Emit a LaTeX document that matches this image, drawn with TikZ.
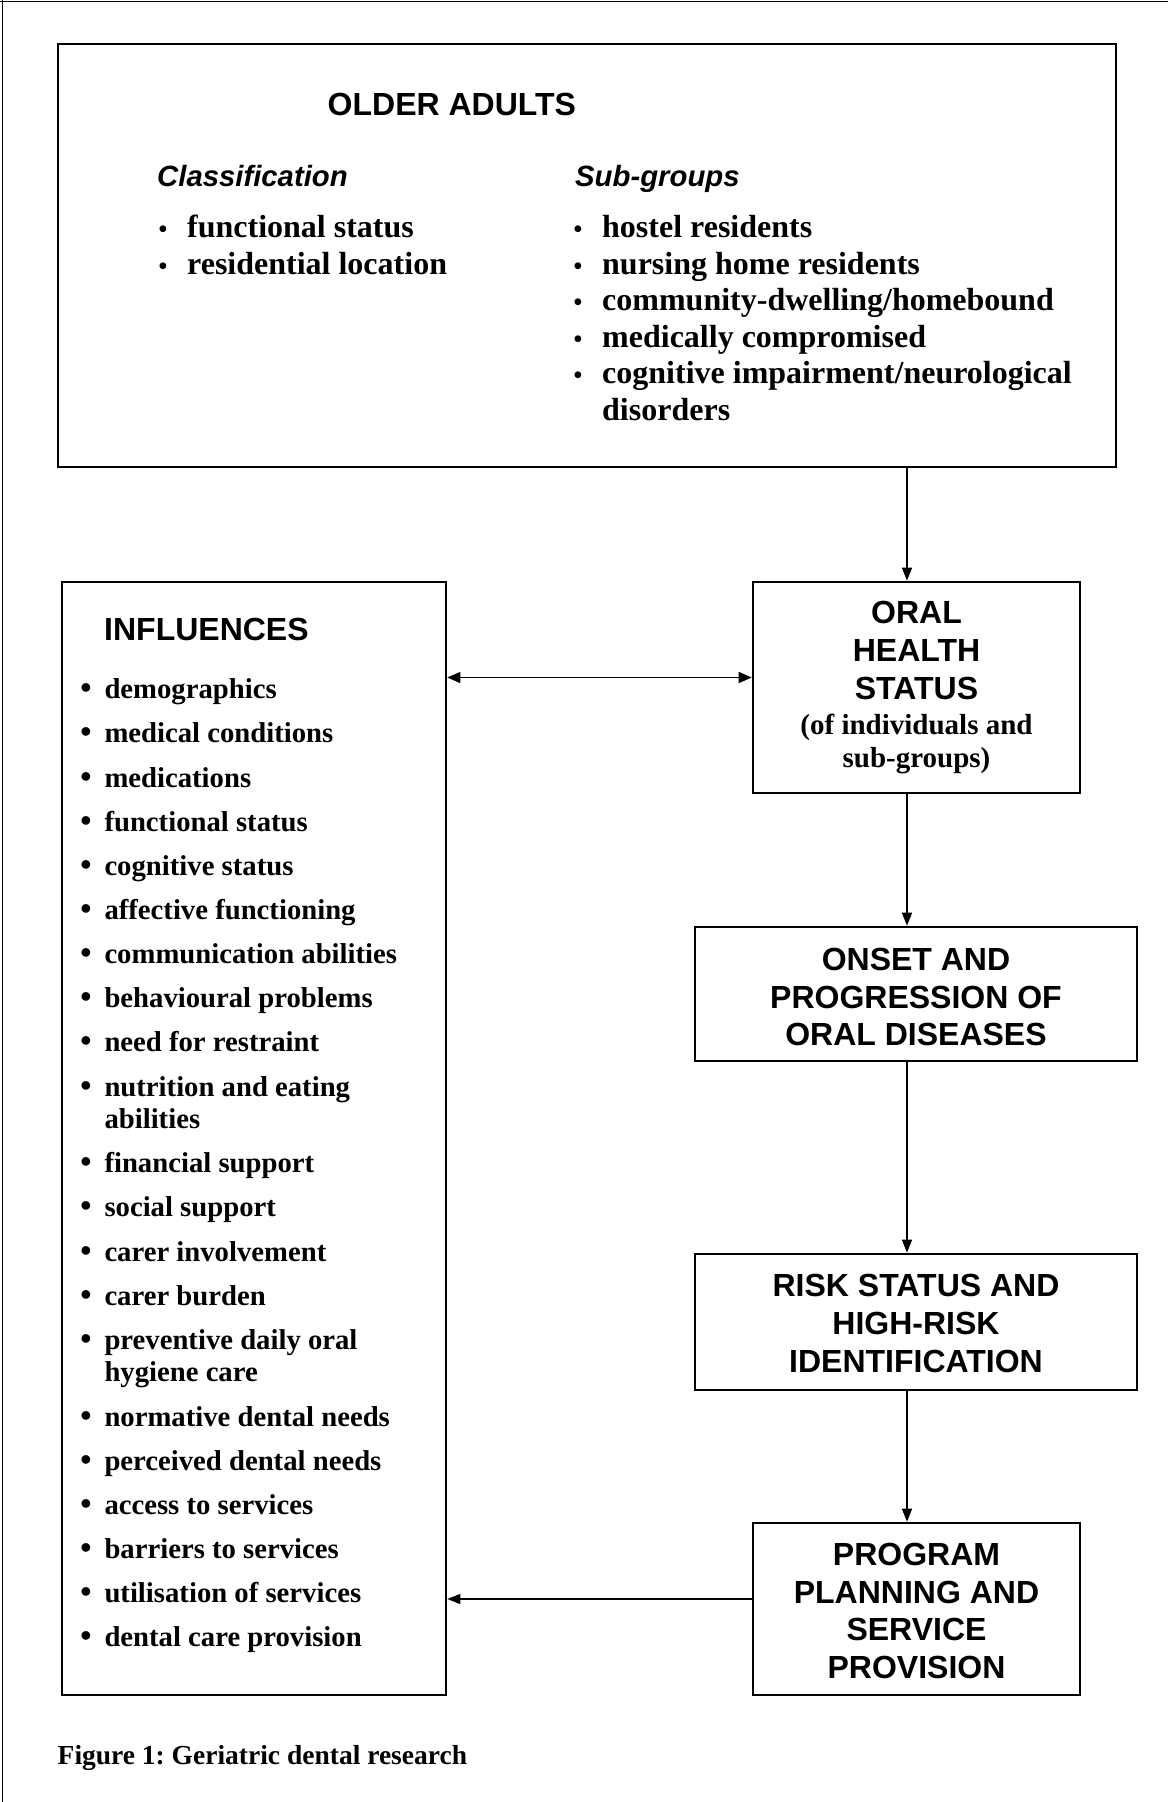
\documentclass[tikz,border=0pt]{standalone}
\usepackage{fontspec}
\setmainfont{Liberation Serif}
\newfontfamily\hfont{Liberation Sans}
\usetikzlibrary{arrows.meta}
\frenchspacing
\begin{document}
\begin{tikzpicture}[x=1bp,y=-1bp,
  box/.style={draw,line width=2.6bp,inner sep=0pt},
  hd/.style={font={\hfont\bfseries\fontsize{32bp}{38bp}\selectfont},inner sep=0pt,anchor=base},
  hdw/.style={font={\hfont\bfseries\fontsize{32bp}{38bp}\selectfont},inner sep=0pt,anchor=base west},
  subhd/.style={font={\hfont\bfseries\itshape\fontsize{29.3bp}{35bp}\selectfont},inner sep=0pt,anchor=base west},
  itm/.style={font={\bfseries\fontsize{32bp}{36bp}\selectfont},inner sep=0pt,anchor=base west},
  sbul/.style={font={\bfseries\fontsize{25bp}{30bp}\selectfont},inner sep=0pt,anchor=base},
  inf/.style={font={\bfseries\fontsize{28.7bp}{33bp}\selectfont},inner sep=0pt,anchor=base west},
  ibul/.style={font={\bfseries\fontsize{32bp}{36bp}\selectfont},inner sep=0pt,anchor=base},
  smalltxt/.style={font={\bfseries\fontsize{29bp}{33bp}\selectfont},inner sep=0pt,anchor=base},
  captxt/.style={font={\bfseries\fontsize{27.5bp}{32bp}\selectfont},inner sep=0pt,anchor=base west},
  arr/.style={line width=1.4bp,-{Triangle[length=13bp,width=10bp]}},
  darr/.style={line width=1.4bp,{Triangle[length=13bp,width=11bp]}-{Triangle[length=13bp,width=11bp]}},
  pageframe/.style={line width=1.5bp}]
\fill[white] (0,0) rectangle (1168,1802);
\useasboundingbox (0,0) rectangle (1168,1802);
% page frame (top and left edges)
\draw[pageframe] (0,1.5) -- (1168,1.5);
\draw[pageframe] (2.5,0) -- (2.5,1802);

% boxes
\node[box,minimum width=1058bp,minimum height=423bp] (top) at (587,255.5) {};
\node[box,minimum width=384bp,minimum height=1113bp] (infl) at (254,1138.5) {};
\node[box,minimum width=327bp,minimum height=211bp] (oral) at (916.5,687.5) {};
\node[box,minimum width=442bp,minimum height=134bp] (onset) at (916,994) {};
\node[box,minimum width=442bp,minimum height=136bp] (risk) at (916,1322) {};
\node[box,minimum width=327bp,minimum height=172bp] (prog) at (916.5,1609) {};

% top box text
\node[hdw] (oa) at (327.5,115) {OLDER ADULTS};
\node[subhd] (cl) at (157,186) {Classification};
\node[subhd] (sg) at (575,186) {Sub-groups};
\foreach \t/\y [count=\i] in {{functional status}/237.5,{residential location}/274}{
  \node[sbul] (lb\i) at (163,\y) {•};
  \node[itm] (lt\i) at (187,\y) {\t};
}
\foreach \t/\y [count=\i] in {{hostel residents}/237.5,{nursing home residents}/274,{community-dwelling/homebound}/310.5,{medically compromised}/347,{cognitive impairment/neurological}/383.5}{
  \node[sbul] (rb\i) at (578,\y) {•};
  \node[itm] (rt\i) at (602,\y) {\t};
}
\node[itm] (rt6) at (602,420) {disorders};

% influences
\node[hdw] (inh) at (104,640) {INFLUENCES};
\foreach \t/\y [count=\i] in {demographics/698.5,medical conditions/742.5,medications/787,functional status/831,cognitive status/875,affective functioning/919,communication abilities/963,behavioural problems/1007,need for restraint/1051,nutrition and eating/1096,financial support/1172,social support/1216,carer involvement/1261,carer burden/1305,preventive daily oral/1349,normative dental needs/1426,perceived dental needs/1470,access to services/1514,barriers to services/1558,utilisation of services/1602.5,dental care provision/1646.5}{
  \node[ibul] (ib\i) at (86,\y) {•};
  \node[inf] (it\i) at (104.3,\y) {\t};
}
\node[inf] (it10b) at (104.3,1128) {abilities};
\node[inf] (it15b) at (104.3,1381.5) {hygiene care};

% oral health status
\node[hd] (o1) at (916.5,623.3) {ORAL};
\node[hd] (o2) at (916.5,661.7) {HEALTH};
\node[hd] (o3) at (916.5,699.3) {STATUS};
\node[smalltxt] (o4) at (916.5,734.5) {(of individuals and};
\node[smalltxt] (o5) at (916.5,767) {sub-groups)};

% onset
\node[hd] (n1) at (916,970) {ONSET AND};
\node[hd] (n2) at (916,1008) {PROGRESSION OF};
\node[hd] (n3) at (916,1045) {ORAL DISEASES};

% risk
\node[hd] (r1) at (916,1296) {RISK STATUS AND};
\node[hd] (r2) at (916,1334) {HIGH-RISK};
\node[hd] (r3) at (916,1372) {IDENTIFICATION};

% program
\node[hd] (p1) at (916.5,1565) {PROGRAM};
\node[hd] (p2) at (916.5,1603) {PLANNING AND};
\node[hd] (p3) at (916.5,1640.5) {SERVICE};
\node[hd] (p4) at (916.5,1678) {PROVISION};

% caption
\node[captxt] (capt) at (57.5,1764) {Figure 1: Geriatric dental research};

% connectors
\coordinate (ax) at (907,0);
\coordinate (dy) at (0,677.5);
\coordinate (py) at (0,1599);
\draw[arr] (top.south -| ax) -- (oral.north -| ax);
\draw[arr] (oral.south -| ax) -- (onset.north -| ax);
\draw[arr] (onset.south -| ax) -- (risk.north -| ax);
\draw[arr] (risk.south -| ax) -- (prog.north -| ax);
\draw[darr] (infl.east |- dy) -- (oral.west |- dy);
\draw[arr] (prog.west |- py) -- (infl.east |- py);
\end{tikzpicture}
\end{document}
